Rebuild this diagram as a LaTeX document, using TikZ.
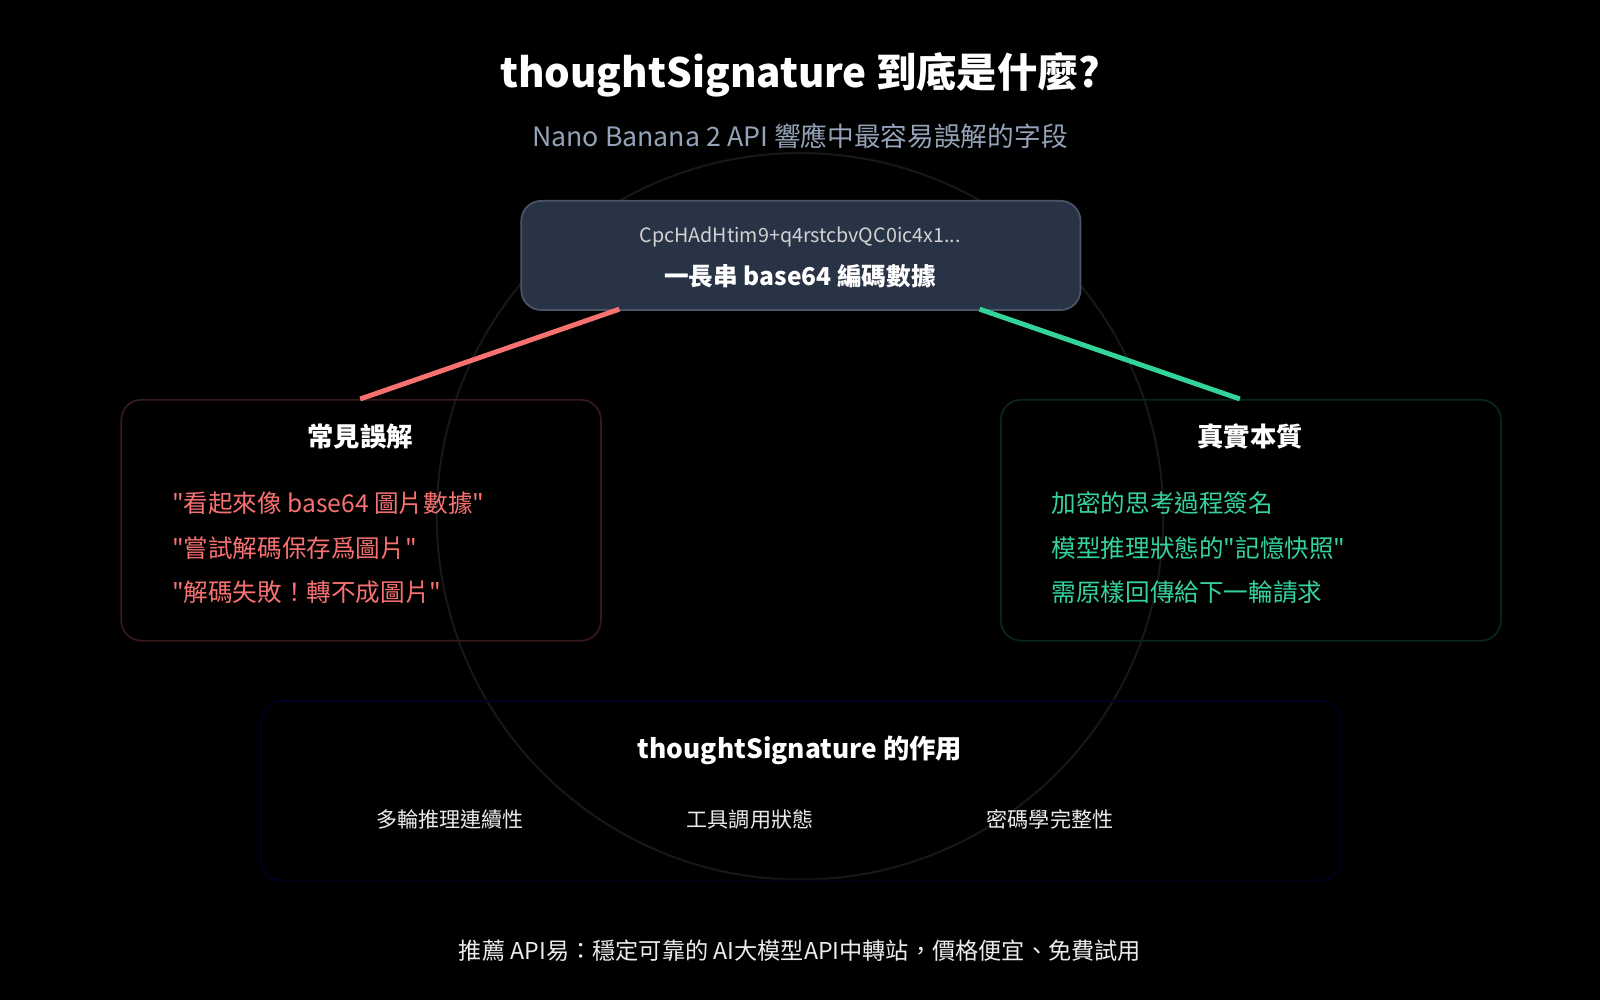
\documentclass[tikz,border=0pt]{standalone}
\usepackage{fontspec}
\setmainfont{Noto Sans CJK TC}[Ligatures=TeXOff]
\begin{document}
\begin{tikzpicture}[x=0.010204cm,y=-0.010204cm,
  box/.style={draw, rounded corners=2mm, line width=0.5pt, anchor=north west, inner sep=0pt},
  txt/.style={inner sep=0pt, text=white},
  ttl/.style={txt, font=\fontsize{7.5}{9}\selectfont\bfseries},
  bad/.style={txt, anchor=west, font=\fontsize{7}{8}\selectfont},
  good/.style={txt, anchor=west, font=\fontsize{7}{8}\selectfont},
  role/.style={txt, text=white!92!black, font=\fontsize{6}{7}\selectfont}]
\definecolor{topfill}{HTML}{283345}
\definecolor{topline}{HTML}{4A5568}
\definecolor{redl}{HTML}{F87171}
\definecolor{greenl}{HTML}{34D399}
\definecolor{subc}{HTML}{94A3B8}
\fill[black] (0,0) rectangle (1568,980);
\useasboundingbox (0,0) rectangle (1568,980);
\draw[white!9!black, line width=0.6pt] (784,506) circle [radius=356];
\node[txt, font=\fontsize{11.5}{13}\selectfont\bfseries] (title) at (784,73) {thoughtSignature 到底是什麼?};
\node[txt, text=subc, font=\fontsize{7.6}{9}\selectfont] (sub) at (784,133) {Nano Banana 2 API 響應中最容易誤解的字段};
\node[box, fill=topfill, draw=topline, minimum width=548*0.010204cm, minimum height=107*0.010204cm] (top) at (510,196) {};
\node[txt, text=white!65!gray, font=\fontsize{5.6}{7}\selectfont] (code) at (784,232) {CpcHAdHtim9+q4rstcbvQC0ic4x1...};
\node[txt, font=\fontsize{7}{8}\selectfont\bfseries] (desc) at (784,271) {一長串 base64 編碼數據};
\node[box, draw=redl!22!black, minimum width=470*0.010204cm, minimum height=236*0.010204cm] (left) at (118,391) {};
\node[box, draw=greenl!18!black, minimum width=490*0.010204cm, minimum height=236*0.010204cm] (right) at (980,391) {};
\node[box, draw=blue!12!black, minimum width=1058*0.010204cm, minimum height=176*0.010204cm] (bottom) at (255,686) {};
\coordinate (tl) at (607,303); \coordinate (tr) at (960,303);
\coordinate (la) at (353,391); \coordinate (ra) at (1215,391);
\draw[redl, line width=1.4pt] (tl) -- (la);
\draw[greenl, line width=1.4pt] (tr) -- (ra);
\node[ttl] (lt) at (353,428) {常見誤解};
\node[bad, text=redl] (l1) at (168,493) {\symbol{34}看起來像 base64 圖片數據\symbol{34}};
\node[bad, text=redl] (l2) at (168,537) {\symbol{34}嘗試解碼保存爲圖片\symbol{34}};
\node[bad, text=redl] (l3) at (168,580) {\symbol{34}解碼失敗！轉不成圖片\symbol{34}};
\node[ttl] (rt) at (1225,428) {真實本質};
\node[good, text=greenl] (r1) at (1030,493) {加密的思考過程簽名};
\node[good, text=greenl] (r2) at (1030,537) {模型推理狀態的\symbol{34}記憶快照\symbol{34}};
\node[good, text=greenl] (r3) at (1030,580) {需原樣回傳給下一輪請求};
\node[ttl] (bt) at (784,735) {thoughtSignature 的作用};
\node[role] (b1) at (441,803) {多輪推理連續性};
\node[role] (b2) at (735,803) {工具調用狀態};
\node[role] (b3) at (1029,803) {密碼學完整性};
\node[txt, text=white!85!gray, font=\fontsize{6.6}{8}\selectfont] (foot) at (784,932) {推薦 API易：穩定可靠的 AI大模型API中轉站，價格便宜、免費試用};
\end{tikzpicture}
\end{document}
